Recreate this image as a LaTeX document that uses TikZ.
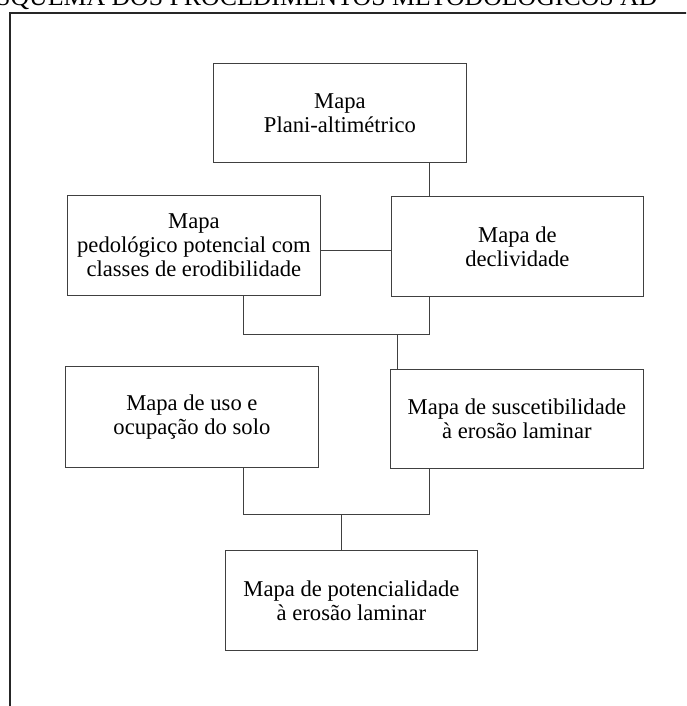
\documentclass[tikz,border=0pt]{standalone}
\usepackage{fontspec}
\setmainfont{Liberation Serif}
\begin{document}
\begin{tikzpicture}[x=1pt,y=-1pt,
  box/.style={draw=black!75, line width=0.8pt, minimum width=253pt, minimum height=100pt,
    align=center, font=\fontsize{22.6}{24}\selectfont, inner sep=0pt, anchor=north west},
  link/.style={draw=black!75, line width=0.8pt},
  frame/.style={draw=black!85, line width=1.4pt}]
\useasboundingbox (0,0) rectangle (686,706);
\clip (0,0) rectangle (686,706);
\node[anchor=base west, inner sep=0pt, font=\fontsize{25.8}{26}\selectfont] (title) at (-4,6) {SQUEMA DOS PROCEDIMENTOS METODOLÓGICOS AD};
\draw[frame] (690,13) -- (10,13) -- (10,710);
\node[box, minimum height=99pt] (plani) at (213,63) {Mapa\\Plani-altimétrico};
\node[box] (pedo) at (67,195) {Mapa\\pedológico potencial com\\classes de erodibilidade};
\node[box, minimum width=252pt] (decl) at (391,196) {Mapa de\\declividade};
\node[box, minimum height=101pt] (uso) at (65,366) {Mapa de uso e\\ocupação do solo};
\node[box, minimum height=99pt] (susc) at (390,369) {Mapa de suscetibilidade\\à erosão laminar};
\node[box, minimum width=252pt] (pot) at (225,550) {Mapa de potencialidade\\à erosão laminar};
\coordinate (xr) at (429,0);
\coordinate (xl) at (243,0);
\coordinate (ym) at (0,250);
\coordinate (j1) at (429,334);
\coordinate (j1l) at (243,334);
\coordinate (j1m) at (397,334);
\coordinate (j2) at (429,514);
\coordinate (j2l) at (243,514);
\coordinate (j2m) at (341,514);
\draw[link] (plani.south -| xr) -- (decl.north -| xr);
\draw[link] (pedo.east |- ym) -- (decl.west |- ym);
\draw[link] (pedo.south -| xl) -- (j1l) -- (j1) -- (decl.south -| xr);
\draw[link] (j1m) -- (susc.north -| j1m);
\draw[link] (uso.south -| xl) -- (j2l) -- (j2) -- (susc.south -| xr);
\draw[link] (j2m) -- (pot.north -| j2m);
\end{tikzpicture}
\end{document}
